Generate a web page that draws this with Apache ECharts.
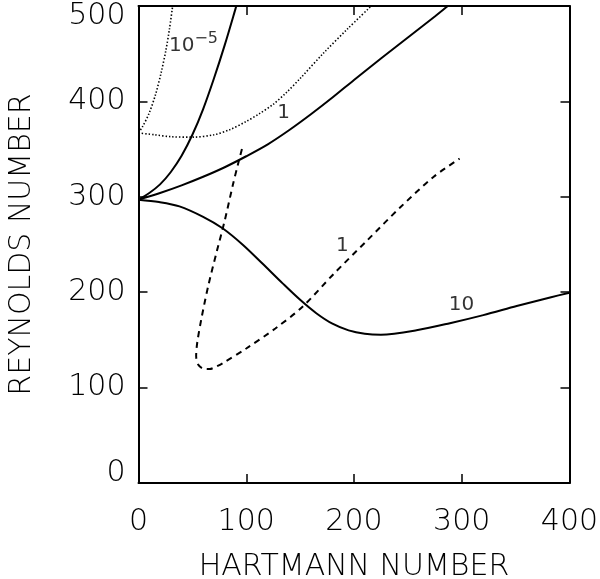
<!DOCTYPE html>
<html>
<head>
<meta charset="utf-8">
<script src="https://cdn.jsdelivr.net/npm/echarts@6/dist/echarts.min.js"></script>
<style>
  html, body { margin: 0; padding: 0; background: #fff; }
  #chart { width: 600px; height: 579px; }
</style>
</head>
<body>
<div id="chart"></div>
<script>
// Axis ticks
const hartmannTicks = [0, 100, 200, 300, 400];
const reynoldsTicks = [0, 100, 200, 300, 400, 500];

// Solid curves: [Hartmann, Reynolds]
const solidSteep = [[0,297],[10,304],[20,313],[30,326],[40,343],[50,365],[60,392],[70,424],[80,459],[90,497],[90.7,500]];
const solidOne = [[0,297],[20,304],[40,312],[60,321],[80,331],[100,342.5],[120,355],[140,370],[160,386.5],[180,404],[200,422.5],[225,445],[250,467],[275,489],[287,500]];
const solidTen = [[0,297],[19,294.5],[38,290],[60,279],[78,267],[97,249.5],[115,230],[134,209],[150,192],[165,178],[180,167],[195,160],[210,156.5],[225,155.5],[258,160],[289,167.5],[320,176],[351,185.5],[382,194.5],[400,199.5]];

// Dotted curves
const dottedSteep = [[0,367],[4,374],[10,388],[16,408],[21,430],[25.5,454],[28.6,475],[31.7,500]];
const dottedOne = [[0,367],[15,365],[30,363],[50,362.5],[70,365],[85,370.5],[100,379],[112,387],[125,397],[137,409],[150,424],[172,451],[194,476],[216,500]];

// Dashed loop
const dashedOne = [[96,350],[92.5,335],[87.5,312],[80,275],[72.5,242],[65,208],[58.5,173],[54.5,147],[53.5,133],[55.5,124],[60,120],[66,119.5],[72,122],[78,125.5],[100,141],[127,162],[152,184.5],[181,219],[212,254],[243,289],[274,321],[298,340]];

// Curve annotations: text and anchor in data units
const curveLabelText = ['{base|10}{sup|\u22125}', '1', '1', '10'];
const curveLabelAt = [[51, 458], [134.6, 388.4], [189.3, 249], [299.8, 187.2]];

const FONT = 'DejaVu Sans';
const INK = '#000';

function curve(data, type, width) {
  return {
    type: 'line',
    data: data,
    showSymbol: false,
    smooth: 0.3,
    clip: true,
    silent: true,
    lineStyle: { color: INK, width: width, type: type, cap: 'butt' },
    z: 3
  };
}

const axisBase = {
  type: 'value',
  splitLine: { show: false },
  axisLine: { show: true, onZero: false, lineStyle: { color: INK, width: 2 } },
  axisTick: { show: true, inside: true, length: 9, lineStyle: { color: INK, width: 1.5 } }
};

const xMin = hartmannTicks[0], xMax = hartmannTicks[hartmannTicks.length - 1];
const yMin = reynoldsTicks[0], yMax = reynoldsTicks[reynoldsTicks.length - 1];
const xStep = hartmannTicks[1] - hartmannTicks[0];
const yStep = reynoldsTicks[1] - reynoldsTicks[0];

const option = {
  backgroundColor: '#fff',
  animation: false,
  grid: { left: 138.5, right: 30.5, top: 6, bottom: 96, containLabel: false, outerBoundsMode: 'none' },
  xAxis: [
    Object.assign({}, axisBase, {
      position: 'bottom', min: xMin, max: xMax, interval: xStep,
      name: 'HARTMANN NUMBER', nameLocation: 'middle', nameGap: 69,
      nameTextStyle: { fontFamily: FONT, fontSize: 30, fontWeight: 200, color: INK },
      axisLabel: { fontFamily: FONT, fontSize: 30, fontWeight: 200, color: INK, margin: 24 }
    }),
    Object.assign({}, axisBase, {
      position: 'top', min: xMin, max: xMax, interval: xStep,
      axisLabel: { show: false }
    })
  ],
  yAxis: [
    Object.assign({}, axisBase, {
      position: 'left', min: yMin, max: yMax, interval: yStep,
      name: 'REYNOLDS NUMBER', nameLocation: 'middle', nameGap: 101, nameRotate: 90,
      nameTextStyle: { fontFamily: FONT, fontSize: 30, fontWeight: 200, color: INK },
      axisLabel: {
        fontFamily: FONT, fontSize: 30, fontWeight: 200, color: INK, margin: 13, lineHeight: 20,
        verticalAlignMinLabel: 'bottom', verticalAlignMaxLabel: 'top'
      }
    }),
    Object.assign({}, axisBase, {
      position: 'right', min: yMin, max: yMax, interval: yStep,
      axisLabel: { show: false }
    })
  ],
  series: [
    curve(solidSteep, 'solid', 2),
    curve(solidOne, 'solid', 2),
    curve(solidTen, 'solid', 2),
    curve(dottedSteep, [1.4, 2], 1.6),
    curve(dottedOne, [1.4, 2], 1.6),
    curve(dashedOne, [6, 5], 2),
    {
      type: 'scatter',
      symbolSize: 0,
      silent: true,
      z: 5,
      data: curveLabelAt.map((p, i) => ({
        value: p,
        label: { formatter: curveLabelText[i] }
      })),
      label: {
        show: true,
        position: 'inside',
        color: INK,
        fontFamily: FONT,
        fontSize: 20,
        rich: {
          base: { fontFamily: FONT, fontSize: 20, color: INK, lineHeight: 30 },
          sup: { fontFamily: FONT, fontSize: 16, color: INK, lineHeight: 16, verticalAlign: 'top' }
        }
      }
    }
  ]
};

const chart = echarts.init(document.getElementById('chart'), null, { renderer: 'canvas' });
chart.setOption(option);
</script>
</body>
</html>
